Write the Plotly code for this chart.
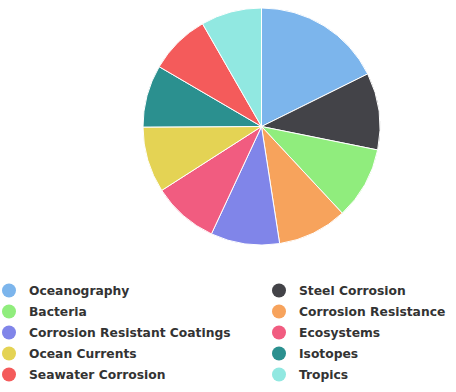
import plotly.graph_objects as go

categories = ["Oceanography", "Steel Corrosion", "Bacteria", "Corrosion Resistance",
              "Corrosion Resistant Coatings", "Ecosystems", "Ocean Currents", "Isotopes",
              "Seawater Corrosion", "Tropics"]
values = [17.7, 10.5, 9.9, 9.5, 9.4, 9.0, 9.0, 8.5, 8.3, 8.3]
colors = ["#7cb5ec", "#434348", "#90ed7d", "#f7a35c", "#8085e9",
          "#f15c80", "#e4d354", "#2b908f", "#f45b5b", "#91e8e1"]

SHIFT = 11  # figure is shifted left on the page so the legend can sit near the edge
W, H = 456 + SHIFT, 392
fig = go.Figure()
fig.add_trace(go.Pie(
    labels=categories, values=values, sort=False, direction="clockwise", rotation=0,
    marker=dict(colors=colors, line=dict(color="#ffffff", width=1)),
    textinfo="none", hoverinfo="label+percent", showlegend=False,
    domain=dict(x=[(143 + SHIFT) / W, (380 + SHIFT) / W], y=[1 - 245 / H, 1 - 8 / H]),
))

for i, (name, col) in enumerate(zip(categories, colors)):
    fig.add_trace(go.Scatter(
        x=[None], y=[None], mode="markers", name=name,
        marker=dict(color=col, size=14, symbol="circle"),
        legend="legend" if i % 2 == 0 else "legend2",
        legendgroup=name, showlegend=True,
    ))

legend_font = dict(family="DejaVu Sans", size=12.3, color="#333333", weight="bold")
common = dict(orientation="v", font=legend_font, bgcolor="rgba(0,0,0,0)",
              tracegroupgap=2, yanchor="top", xanchor="left", itemclick=False)
fig.update_layout(
    width=W, height=H, autosize=False,
    margin=dict(l=0, r=0, t=0, b=0),
    paper_bgcolor="#ffffff", plot_bgcolor="#ffffff",
    xaxis=dict(visible=False), yaxis=dict(visible=False),
    legend=dict(x=0, y=1 - 276 / H, **common),
    legend2=dict(x=(259 + SHIFT) / W, y=1 - 276 / H, **common),
)
fig.write_html("out.html", config={"displayModeBar": False},
               post_script="document.body.style.margin='0 0 0 -%dpx';" % SHIFT)
